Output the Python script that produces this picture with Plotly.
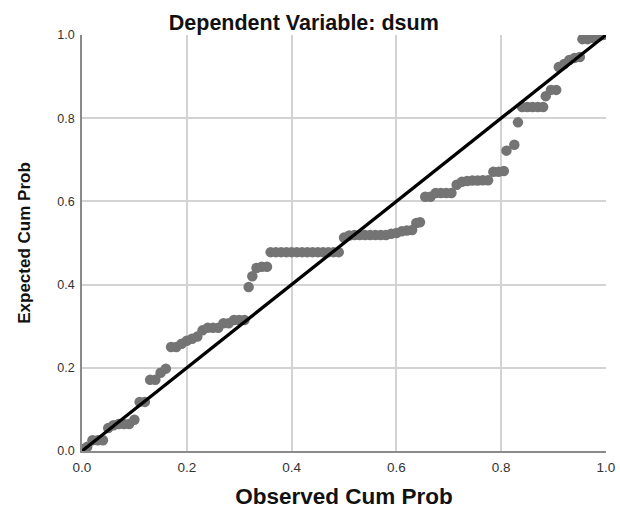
import plotly.graph_objects as go

# Observed cumulative probability (x) and expected cumulative probability (y)
observed = [0.000, 0.010, 0.020, 0.030, 0.040, 0.050, 0.060, 0.070, 0.080, 0.090,
            0.100, 0.110, 0.120, 0.130, 0.140, 0.150, 0.160, 0.170, 0.180, 0.190,
            0.200, 0.210, 0.220, 0.230, 0.240, 0.250, 0.260, 0.270, 0.280, 0.290,
            0.300, 0.310, 0.318, 0.325, 0.333, 0.343, 0.353, 0.360, 0.370, 0.380,
            0.390, 0.400, 0.410, 0.420, 0.430, 0.440, 0.450, 0.460, 0.470, 0.480,
            0.490, 0.500, 0.510, 0.520, 0.530, 0.540, 0.550, 0.560, 0.570, 0.580,
            0.590, 0.600, 0.610, 0.620, 0.630, 0.638, 0.645, 0.655, 0.665, 0.675,
            0.685, 0.695, 0.705, 0.715, 0.725, 0.735, 0.745, 0.755, 0.765, 0.775,
            0.785, 0.795, 0.805, 0.810, 0.825, 0.832, 0.840, 0.850, 0.860, 0.870,
            0.880, 0.885, 0.895, 0.905, 0.910, 0.920, 0.930, 0.940, 0.950, 0.955,
            0.965, 0.975, 0.985, 0.995]
expected = [0.005, 0.010, 0.026, 0.026, 0.026, 0.055, 0.062, 0.065, 0.065, 0.065,
            0.075, 0.118, 0.118, 0.171, 0.171, 0.188, 0.198, 0.250, 0.250, 0.258,
            0.265, 0.270, 0.275, 0.290, 0.296, 0.296, 0.296, 0.307, 0.307, 0.315,
            0.315, 0.315, 0.394, 0.420, 0.440, 0.443, 0.443, 0.478, 0.478, 0.478,
            0.478, 0.478, 0.478, 0.478, 0.478, 0.478, 0.478, 0.478, 0.478, 0.478,
            0.478, 0.513, 0.518, 0.519, 0.519, 0.519, 0.519, 0.519, 0.519, 0.519,
            0.522, 0.524, 0.528, 0.530, 0.531, 0.548, 0.550, 0.611, 0.611, 0.620,
            0.620, 0.620, 0.620, 0.640, 0.647, 0.649, 0.650, 0.650, 0.651, 0.651,
            0.671, 0.671, 0.673, 0.722, 0.736, 0.790, 0.827, 0.827, 0.827, 0.827,
            0.827, 0.853, 0.868, 0.868, 0.923, 0.930, 0.940, 0.945, 0.947, 0.990,
            0.990, 0.993, 0.996, 1.000]

ref_line = [0.0, 1.0]
ticks = [0.0, 0.2, 0.4, 0.6, 0.8, 1.0]
tick_text = ["0.0", "0.2", "0.4", "0.6", "0.8", "1.0"]

fig = go.Figure()
fig.add_trace(go.Scatter(
    x=observed, y=expected, mode="markers",
    marker=dict(size=10.5, color="#747474", line=dict(width=0)),
    showlegend=False, hoverinfo="x+y"))
fig.add_trace(go.Scatter(
    x=ref_line, y=ref_line, mode="lines",
    line=dict(color="#000000", width=3.3),
    showlegend=False, hoverinfo="skip"))

font_family = "Liberation Sans, Arial, sans-serif"
fig.update_layout(
    width=620, height=509,
    margin=dict(l=82, r=14, t=35, b=58),
    paper_bgcolor="white", plot_bgcolor="white",
    font=dict(family=font_family, color="#222222", size=13),
    title=dict(text="<b>Dependent Variable: dsum</b>", x=0.49, xref="container",
               xanchor="center",
               y=1, yref="container", yanchor="top", pad=dict(t=15),
               font=dict(size=21.5, color="#111111", family=font_family)),
    xaxis=dict(range=[0, 1], tickvals=ticks, ticktext=tick_text,
               showgrid=True, gridcolor="#d3d3d3", gridwidth=1.5,
               zeroline=False, showline=True, linecolor="#8a8a8a", linewidth=1.5,
               mirror=False, ticks="outside", ticklen=3, tickcolor="rgba(0,0,0,0)",
               automargin=False,
               tickfont=dict(size=13.5, color="#333333"),
               title=dict(text="<b>Observed Cum Prob</b>", standoff=22,
                          font=dict(size=22.5, color="#111111"))),
    yaxis=dict(range=[0, 1], tickvals=ticks, ticktext=tick_text,
               showgrid=True, gridcolor="#d3d3d3", gridwidth=1.5,
               zeroline=False, showline=True, linecolor="#8a8a8a", linewidth=1.5,
               mirror=False, ticks="outside", ticklen=3, tickcolor="rgba(0,0,0,0)",
               automargin=False,
               tickfont=dict(size=12.5, color="#333333"),
               title=dict(text="<b>Expected Cum Prob</b>", standoff=22,
                          font=dict(size=17, color="#111111"))),
)
fig.write_html("out.html",
               config={"displayModeBar": False},
               post_script="document.body.style.margin='0';document.body.style.overflow='hidden';")
